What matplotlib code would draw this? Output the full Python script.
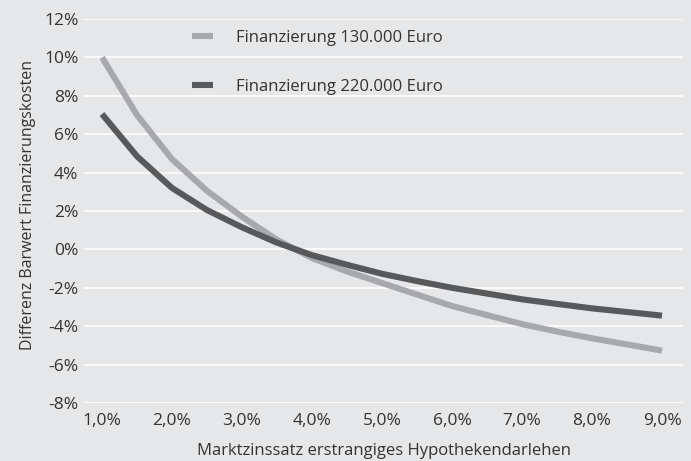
import matplotlib
matplotlib.use("Agg")
import matplotlib.pyplot as plt
from matplotlib.ticker import FuncFormatter, MultipleLocator

rates = [1.0, 1.5, 2.0, 2.5, 3.0, 3.5, 4.0, 4.5, 5.0, 5.5, 6.0, 6.5, 7.0, 7.5, 8.0, 8.5, 9.0]
fin_130 = [10.0, 7.0, 4.7, 3.05, 1.7, 0.5, -0.45, -1.15, -1.75, -2.35, -2.95, -3.42, -3.89, -4.28, -4.63, -4.95, -5.27]
fin_220 = [7.05, 4.85, 3.2, 2.05, 1.15, 0.35, -0.3, -0.8, -1.27, -1.65, -2.0, -2.3, -2.6, -2.84, -3.07, -3.26, -3.45]
labels = ["Finanzierung 130.000 Euro", "Finanzierung 220.000 Euro"]
xlabel = "Marktzinssatz erstrangiges Hypothekendarlehen"
ylabel = "Differenz Barwert Finanzierungskosten"

bg = "#e6e7e8"
txt = "#333333"
plt.rcParams['font.family'] = ['Open Sans', 'DejaVu Sans']

fig = plt.figure(figsize=(6.91, 4.61), dpi=100, facecolor=bg)
ax = fig.add_axes([84/691, 1-403/461, (683-84)/691, (403-19)/461], facecolor=bg)

ax.plot(rates, fin_130, color="#a7a9ac", lw=4.4, label=labels[0], solid_capstyle='butt', zorder=3)
ax.plot(rates, fin_220, color="#58595b", lw=4.4, label=labels[1], solid_capstyle='butt', zorder=3)

ax.set_ylim(-8, 12)
ax.set_xlim(1.0 - 18/70, 9.0 + 21/70)
ax.yaxis.set_major_locator(MultipleLocator(2))
ax.xaxis.set_major_locator(MultipleLocator(1))
ax.yaxis.set_major_formatter(FuncFormatter(lambda v, p: f"{v:.0f}%"))
ax.xaxis.set_major_formatter(FuncFormatter(lambda v, p: f"{v:.1f}%".replace(".", ",")))
ax.grid(axis='y', color='white', lw=1.2, zorder=1)
ax.set_axisbelow(True)
for s in ax.spines.values():
    s.set_visible(False)
ax.tick_params(axis='both', length=0, labelsize=12.5, colors=txt)
ax.tick_params(axis='x', pad=7)
ax.tick_params(axis='y', pad=4)
ax.set_xlabel(xlabel, fontsize=12, color=txt, labelpad=10)
ax.set_ylabel(ylabel, fontsize=11.5, color=txt, labelpad=6)
ax.yaxis.label.set_y(0.516)

leg = ax.legend(loc='upper left', bbox_to_anchor=(192/691, 1-29.5/461), bbox_transform=fig.transFigure,
                frameon=False, fontsize=12, handlelength=1.25, handletextpad=1.4,
                labelspacing=2.0, borderpad=0, borderaxespad=0)
for t in leg.get_texts():
    t.set_color(txt)

fig.savefig("out.png", dpi=100, facecolor=bg)
